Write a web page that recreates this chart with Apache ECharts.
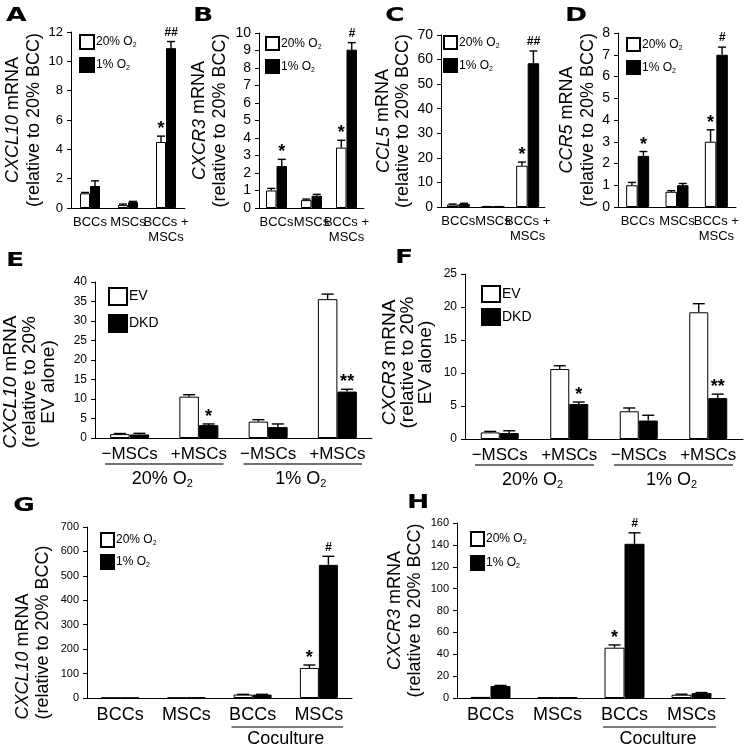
<!DOCTYPE html>
<html><head><meta charset="utf-8">
<script src="https://cdn.jsdelivr.net/npm/echarts@6/dist/echarts.min.js"></script>
<style>html,body{margin:0;padding:0;background:#fff}#c{width:753px;height:750px}</style>
</head><body><div id="c"></div>
<script>
// ---------- categories / labels ----------
const catsTop = ['BCCs', 'MSCs', 'BCCs +\nMSCs'];
const catsMid = ['\u2212MSCs', '+MSCs', '\u2212MSCs', '+MSCs'];
const catsBot = ['BCCs', 'MSCs', 'BCCs', 'MSCs'];
const groupsMid = ['20% O2', '1% O2'];
const cocultureLabel = 'Coculture';
const namesO2 = ['20% O2', '1% O2'];
const namesEV = ['EV', 'DKD'];
const letters = ['A', 'B', 'C', 'D', 'E', 'F', 'G', 'H'];

// ---------- A: CXCL10 ----------
const A_20 = [1.0, 0.2, 4.5];
const A_20err = [0.06, 0.07, 0.4];
const A_20sig = ['', '', '*'];
const A_1 = [1.5, 0.4, 10.9];
const A_1err = [0.35, 0.05, 0.45];
const A_1sig = ['', '', '##'];
// ---------- B: CXCR3 ----------
const B_20 = [1.0, 0.45, 3.45];
const B_20err = [0.12, 0.06, 0.42];
const B_20sig = ['', '', '*'];
const B_1 = [2.4, 0.7, 9.05];
const B_1err = [0.38, 0.08, 0.4];
const B_1sig = ['*', '', '#'];
// ---------- C: CCL5 ----------
const C_20 = [1.0, 0.1, 16.8];
const C_20err = [0.2, 0.05, 1.5];
const C_20sig = ['', '', '*'];
const C_1 = [1.2, 0.1, 58.5];
const C_1err = [0.3, 0.05, 5.0];
const C_1sig = ['', '', '##'];
// ---------- D: CCR5 ----------
const D_20 = [1.0, 0.7, 3.0];
const D_20err = [0.13, 0.05, 0.55];
const D_20sig = ['', '', '*'];
const D_1 = [2.35, 1.0, 7.0];
const D_1err = [0.2, 0.08, 0.35];
const D_1sig = ['*', '', '#'];
// ---------- E: CXCL10 EV / DKD ----------
const E_ev = [1.0, 10.6, 4.2, 35.6];
const E_everr = [0.15, 0.5, 0.5, 1.3];
const E_evsig = ['', '', '', ''];
const E_dkd = [0.9, 3.3, 2.8, 11.9];
const E_dkderr = [0.3, 0.3, 0.8, 0.6];
const E_dkdsig = ['', '*', '', '**'];
// ---------- F: CXCR3 EV / DKD ----------
const F_ev = [1.0, 10.6, 4.2, 19.2];
const F_everr = [0.15, 0.5, 0.5, 1.3];
const F_evsig = ['', '', '', ''];
const F_dkd = [0.9, 5.3, 2.8, 6.2];
const F_dkderr = [0.35, 0.3, 0.8, 0.6];
const F_dkdsig = ['', '*', '', '**'];
// ---------- G: CXCL10 coculture ----------
const G_20 = [1.0, 1.5, 14, 123];
const G_20err = [0, 0, 1, 12];
const G_20sig = ['', '', '', '*'];
const G_1 = [1.0, 2.0, 14, 545];
const G_1err = [0, 0, 1, 35];
const G_1sig = ['', '', '', '#'];
// ---------- H: CXCR3 coculture ----------
const H_20 = [1.0, 0.5, 46, 3.0];
const H_20err = [0, 0, 2.5, 0.5];
const H_20sig = ['', '', '*', ''];
const H_1 = [11, 0.5, 141, 4.5];
const H_1err = [0.5, 0, 10, 0.5];
const H_1sig = ['', '', '#', ''];

// ---------- y axis ranges / tick steps ----------
const yMax = [12, 10, 70, 8, 40, 25, 700, 160];
const yStep = [2, 1, 10, 1, 5, 5, 100, 20];

const FONT = "'Liberation Sans', Arial, sans-serif";
const NARROW = "'Liberation Sans Narrow', 'Liberation Sans', Arial, sans-serif";

const panels = [
  {cats:catsTop, names:namesO2, v:[A_20,A_1], e:[A_20err,A_1err], s:[A_20sig,A_1sig], gene:'CXCL10', rest:'(relative to 20% BCC)'},
  {cats:catsTop, names:namesO2, v:[B_20,B_1], e:[B_20err,B_1err], s:[B_20sig,B_1sig], gene:'CXCR3', rest:'(relative to 20% BCC)'},
  {cats:catsTop, names:namesO2, v:[C_20,C_1], e:[C_20err,C_1err], s:[C_20sig,C_1sig], gene:'CCL5', rest:'(relative to 20% BCC)'},
  {cats:catsTop, names:namesO2, v:[D_20,D_1], e:[D_20err,D_1err], s:[D_20sig,D_1sig], gene:'CCR5', rest:'(relative to 20% BCC)'},
  {cats:catsMid, names:namesEV, v:[E_ev,E_dkd], e:[E_everr,E_dkderr], s:[E_evsig,E_dkdsig], gene:'CXCL10', rest:'(relative to 20%\nEV alone)'},
  {cats:catsMid, names:namesEV, v:[F_ev,F_dkd], e:[F_everr,F_dkderr], s:[F_evsig,F_dkdsig], gene:'CXCR3', rest:'(relative to 20%\nEV alone)'},
  {cats:catsBot, names:namesO2, v:[G_20,G_1], e:[G_20err,G_1err], s:[G_20sig,G_1sig], gene:'CXCL10', rest:'(relative to 20% BCC)', leftAlign:true},
  {cats:catsBot, names:namesO2, v:[H_20,H_1], e:[H_20err,H_1err], s:[H_20sig,H_1sig], gene:'CXCR3', rest:'(relative to 20% BCC)'}
];

// ---------- layout (positions & styles) ----------
const layout = [
  {grid:{left:71,top:32,width:114,height:176}, bw:10, cap:8, tick:13, tickFont:NARROW, xl:13, xlFont:NARROW, nameSize:18, nameGap:26, nameLH:21, namePad:0,
   letter:[6,10], leg:{left:79,top:34,iw:14,ih:14,gap:7,fs:12}, sigBig:18, sigSmall:12},
  {grid:{left:259,top:33,width:105,height:175}, bw:10.5, cap:8, tick:14, tickFont:FONT, xl:13, xlFont:NARROW, nameSize:18, nameGap:28, nameLH:21, namePad:0,
   letter:[193,10], leg:{left:265,top:36,iw:13,ih:13,gap:8,fs:12}, sigBig:18, sigSmall:12},
  {grid:{left:441,top:35,width:104,height:172}, bw:11.5, cap:8, tick:14, tickFont:FONT, xl:13, xlFont:NARROW, nameSize:18, nameGap:23, nameLH:20, namePad:0,
   letter:[385,10], leg:{left:443,top:35,iw:13,ih:13,gap:8,fs:12}, sigBig:18, sigSmall:12},
  {grid:{left:618,top:33,width:118,height:174}, bw:11.5, cap:8, tick:14, tickFont:FONT, xl:13, xlFont:NARROW, nameSize:18, nameGap:16, nameLH:21, namePad:0,
   letter:[565,10], leg:{left:626,top:37,iw:13,ih:13,gap:8,fs:12}, sigBig:18, sigSmall:12},
  {grid:{left:95,top:282,width:277,height:156}, bw:19.5, cap:12, tick:12, tickFont:FONT, xl:17, xlFont:FONT, nameSize:19, nameGap:37, nameLH:19, namePad:44,
   letter:[6,255], leg:{left:108,top:287,iw:18,ih:17,gap:8,fs:14}, sigBig:18, sigSmall:12},
  {grid:{left:465,top:274,width:278,height:165}, bw:19, cap:12, tick:12, tickFont:FONT, xl:17, xlFont:FONT, nameSize:19, nameGap:30, nameLH:18, namePad:12,
   letter:[395,252], leg:{left:481,top:285,iw:18,ih:16,gap:5,fs:14}, sigBig:18, sigSmall:12},
  {grid:{left:87,top:527,width:265,height:171}, bw:19, cap:12, tick:11, tickFont:NARROW, xl:18, xlFont:FONT, nameSize:18, nameGap:34, nameLH:20, namePad:40,
   letter:[13,500], leg:{left:100,top:532,iw:13,ih:14,gap:6,fs:12}, sigBig:18, sigSmall:12},
  {grid:{left:457,top:523,width:268,height:175}, bw:20, cap:12, tick:11, tickFont:NARROW, xl:18, xlFont:FONT, nameSize:18, nameGap:32, nameLH:20, namePad:0,
   letter:[407,497], leg:{left:470,top:531,iw:13,ih:14,gap:8,fs:12}, sigBig:18, sigSmall:12}
];

const subFmt = n => n.replace('O2', 'O{s|2}');

const grid = [], xAxis = [], yAxis = [], series = [], legend = [];

panels.forEach((p, i) => {
  const L = layout[i];
  grid.push(Object.assign({containLabel:false}, L.grid));
  xAxis.push({
    type:'category', gridIndex:i, data:p.cats,
    axisLine:{lineStyle:{color:'#000', width:1}},
    axisTick:{length:4, lineStyle:{color:'#000'}},
    axisLabel:{color:'#000', fontSize:L.xl, fontFamily:L.xlFont, margin:7, lineHeight:L.xl+2, interval:0, overflow:'none'}
  });
  const base = {color:'#000', fontSize:L.nameSize, fontFamily:FONT, lineHeight:L.nameLH};
  const name = p.leftAlign
    ? '{gl|' + p.gene + '}{tl| mRNA}\n{tl|' + p.rest + '}'
    : '{g|' + p.gene + '} mRNA\n' + p.rest;
  yAxis.push({
    type:'value', gridIndex:i, min:0, max:yMax[i], interval:yStep[i],
    splitLine:{show:false},
    axisLine:{show:true, lineStyle:{color:'#000', width:1}},
    axisTick:{show:true, length:4, lineStyle:{color:'#000'}},
    axisLabel:{color:'#000', fontSize:L.tick, fontFamily:L.tickFont, margin:8},
    name:name,
    nameLocation:'middle', nameRotate:90, nameGap:L.nameGap,
    nameTextStyle:Object.assign({}, base, {
      padding:[0, L.namePad, 0, 0],
      rich:{
        g:Object.assign({}, base, {fontStyle:'italic'}),
        gl:Object.assign({}, base, {fontStyle:'italic', align:'left'}),
        tl:Object.assign({}, base, {align:'left'})
      }})
  });
  legend.push({
    data:p.names, orient:'vertical', left:L.leg.left, top:L.leg.top, padding:0,
    itemWidth:L.leg.iw, itemHeight:L.leg.ih, itemGap:L.leg.gap, icon:'rect', selectedMode:false,
    formatter:subFmt,
    textStyle:{color:'#000', fontSize:L.leg.fs, fontFamily:FONT, padding:[0,0,0,-3],
      rich:{s:{fontSize:Math.round(L.leg.fs*0.62), fontFamily:FONT, color:'#000', padding:[L.leg.fs*0.55,0,0,0]}}}
  });
  [0, 1].forEach(k => {
    series.push({
      type:'bar', name:p.names[k], xAxisIndex:i, yAxisIndex:i, data:p.v[k],
      barWidth:L.bw, barGap:'0%',
      itemStyle:k === 0 ? {color:'#fff', borderColor:'#000', borderWidth:1} : {color:'#000', borderColor:'#000', borderWidth:1},
      emphasis:{disabled:true}, animation:false, z:2
    });
  });
  [0, 1].forEach(k => {
    const vals = p.v[k], errs = p.e[k], sigs = p.s[k];
    const side = k === 0 ? -1 : 1;
    series.push({
      type:'custom', xAxisIndex:i, yAxisIndex:i, z:5, clip:false, silent:true, animation:false,
      data:vals.map((v, j) => [j, v, errs[j]]),
      encode:{x:0, y:1},
      renderItem:(params, api) => {
        const j = api.value(0), v = api.value(1), e = api.value(2);
        const b = api.coord([j, v]);
        const top = api.coord([j, v + e]);
        const x = b[0] + side * L.bw / 2;
        const children = [];
        if (e > 0) {
          children.push({type:'line', shape:{x1:x, y1:b[1], x2:x, y2:top[1]}, style:{stroke:'#000', lineWidth:1.4}});
          children.push({type:'line', shape:{x1:x - L.cap/2, y1:top[1], x2:x + L.cap/2, y2:top[1]}, style:{stroke:'#000', lineWidth:1.4}});
        }
        const sg = sigs[params.dataIndex];
        if (sg) {
          const isStar = sg.indexOf('*') >= 0;
          children.push({type:'text', x:x, y:top[1] - (isStar ? -2 : 3),
            style:{text:sg, fill:'#000', align:'center', verticalAlign:'bottom',
              font:(isStar ? 'bold ' + L.sigBig + 'px ' : 'italic bold ' + L.sigSmall + 'px ') + FONT}});
        }
        return {type:'group', children:children};
      }
    });
  });
});

const chart = echarts.init(document.getElementById('c'), null, {renderer:'canvas'});
chart.setOption({animation:false, backgroundColor:'#fff', grid, xAxis, yAxis, legend, series});

// ---------- panel letters, group annotations under E/F and coculture under G/H ----------
const graphics = [];
letters.forEach((t, i) => {
  graphics.push({type:'text', x:layout[i].letter[0], y:layout[i].letter[1] - 3, scaleX:1.4, silent:true,
    style:{text:t, fill:'#000', font:'bold 19px "DejaVu Sans", sans-serif', align:'left', verticalAlign:'top'}});
});
const subRich = {s:{fontSize:11, fontFamily:FONT, fill:'#000', padding:[9,0,0,0]}};
[4, 5].forEach(gi => {
  const c0 = chart.convertToPixel({xAxisIndex:gi}, 0);
  const c1 = chart.convertToPixel({xAxisIndex:gi}, 1);
  const cw = c1 - c0;
  const yb = chart.convertToPixel({yAxisIndex:gi}, 0);
  [0, 1].forEach(g => {
    const a = chart.convertToPixel({xAxisIndex:gi}, 2 * g) - cw / 2;
    const b = chart.convertToPixel({xAxisIndex:gi}, 2 * g + 1) + cw / 2;
    graphics.push({type:'line', shape:{x1:a + 10, y1:yb + 26, x2:b - 10, y2:yb + 26}, style:{stroke:'#444', lineWidth:1.5}, silent:true});
    graphics.push({type:'text', x:(a + b) / 2 - 2, y:yb + 41,
      style:{text:subFmt(groupsMid[g]), fill:'#000', font:'18px ' + FONT, align:'center', verticalAlign:'middle', rich:subRich}, silent:true});
  });
});
[6, 7].forEach(gi => {
  const c2 = chart.convertToPixel({xAxisIndex:gi}, 2);
  const c3 = chart.convertToPixel({xAxisIndex:gi}, 3);
  const cw = c3 - c2;
  const yb = chart.convertToPixel({yAxisIndex:gi}, 0);
  const a = c2 - cw / 2, b = c3 + cw / 2;
  graphics.push({type:'line', shape:{x1:a + 12, y1:yb + 29, x2:b - 9, y2:yb + 29}, style:{stroke:'#000', lineWidth:1}, silent:true});
  graphics.push({type:'text', x:(a + b) / 2, y:yb + 41,
    style:{text:cocultureLabel, fill:'#000', font:'18px ' + FONT, align:'center', verticalAlign:'middle'}, silent:true});
});
chart.setOption({graphic:graphics});
</script>
</body></html>
